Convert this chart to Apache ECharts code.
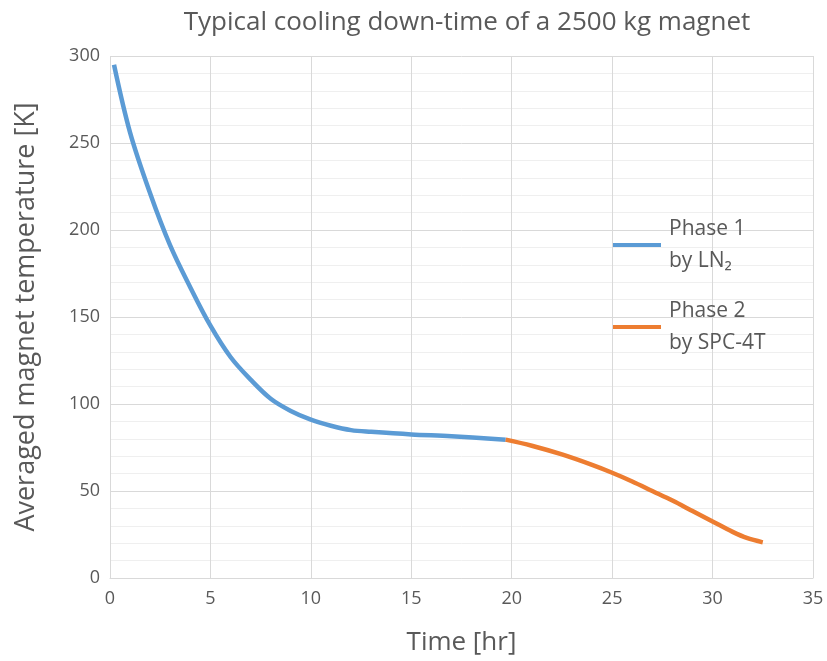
<!DOCTYPE html>
<html>
<head>
<meta charset="utf-8">
<script src="https://cdn.jsdelivr.net/npm/echarts@6/dist/echarts.min.js"></script>
<style>html,body{margin:0;padding:0;background:#fff}#c{width:827px;height:661px}</style>
</head>
<body>
<div id="c"></div>
<script>
const phase1Time = [0.2, 1, 2, 3, 4, 5, 6, 7, 8, 9, 10, 11, 12, 13, 15, 17, 19.7];
const phase1Temp = [295, 256, 221, 191, 167, 145, 127, 114, 103, 96, 91, 87.5, 85, 84, 82.5, 81.5, 79.5];
const phase2Time = [19.7, 21, 22.5, 24, 25, 26, 27, 28, 29, 30, 31, 31.7, 32.5];
const phase2Temp = [79.5, 76, 71, 65, 60.5, 55.5, 50, 44.5, 38.5, 32.5, 26.5, 23, 20.5];
const seriesNames = ['Phase 1\nby LN₂', 'Phase 2\nby SPC-4T'];
const titleText = 'Typical cooling down-time of a 2500 kg magnet';
const xName = 'Time [hr]';
const yName = 'Averaged magnet temperature [K]';

const font = 'Open Sans';
const chart = echarts.init(document.getElementById('c'));
const zip = (a, b) => a.map((v, i) => [v, b[i]]);
chart.setOption({
  animation: false,
  title: {
    text: titleText, left: 462, top: 5, textAlign: 'center',
    textStyle: {fontFamily: font, fontSize: 26, fontWeight: 'normal', color: '#595959'}
  },
  grid: {left: 110, right: 14, top: 56, bottom: 81},
  legend: {
    orient: 'vertical', left: 608, top: 208, itemWidth: 48, itemHeight: 4, itemGap: 18,
    icon: 'rect',
    textStyle: {fontFamily: font, fontSize: 21, color: '#595959', lineHeight: 32, padding: [0, 0, 0, 3]},
    data: seriesNames
  },
  xAxis: {
    type: 'value', min: 0, max: 35, interval: 5,
    name: xName, nameLocation: 'middle', nameGap: 52,
    nameTextStyle: {fontFamily: font, fontSize: 26, color: '#595959'},
    axisLine: {show: true, lineStyle: {color: '#D9D9D9', width: 1}},
    axisTick: {show: false},
    axisLabel: {fontFamily: font, fontSize: 18, color: '#595959', margin: 12},
    splitLine: {show: true, lineStyle: {color: '#D9D9D9', width: 1}}
  },
  yAxis: {
    type: 'value', min: 0, max: 300, interval: 50,
    name: yName, nameLocation: 'middle', nameGap: 70,
    nameTextStyle: {fontFamily: font, fontSize: 27, color: '#595959'},
    axisLine: {show: false},
    axisTick: {show: false},
    axisLabel: {fontFamily: font, fontSize: 18, color: '#595959', margin: 10},
    splitLine: {show: true, lineStyle: {color: '#D9D9D9', width: 1}},
    minorTick: {show: false, splitNumber: 5},
    minorSplitLine: {show: true, lineStyle: {color: '#EFEFEF', width: 1}}
  },
  series: [
    {name: seriesNames[0], type: 'line', data: zip(phase1Time, phase1Temp), smooth: 0.35,
     showSymbol: false, lineStyle: {color: '#5B9BD5', width: 4.5}, itemStyle: {color: '#5B9BD5'}},
    {name: seriesNames[1], type: 'line', data: zip(phase2Time, phase2Temp), smooth: 0.35,
     showSymbol: false, lineStyle: {color: '#ED7D31', width: 4.5}, itemStyle: {color: '#ED7D31'}}
  ]
});
</script>
</body>
</html>
